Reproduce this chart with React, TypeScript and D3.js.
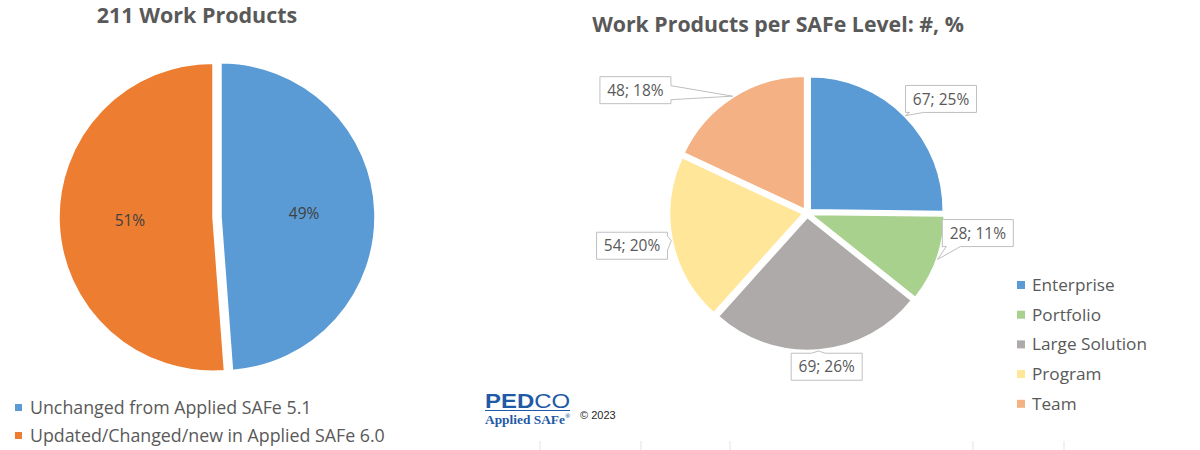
import React from 'react';
import * as d3 from 'd3';

// left chart: how many work products changed between versions
const changeLabels = ['Unchanged from Applied SAFe 5.1', 'Updated/Changed/new in Applied SAFe 6.0'];
const changeCounts = [103, 108];
const changeColors = ['#5B9BD5', '#ED7D31'];

// right chart: work products per SAFe level
const levelLabels = ['Enterprise', 'Portfolio', 'Large Solution', 'Program', 'Team'];
const levelCounts = [67, 28, 69, 54, 48];
const levelColors = ['#5B9BD5', '#A9D18E', '#AEAAAA', '#FFE699', '#F4B183'];

// where each callout box sits: degrees clockwise from 12 o'clock, px from pie centre
const calloutAngle = [49.6, 96.7, 172.7, 259.4, 305.6];
const calloutDist = [176, 172, 155, 178, 211];

const W = 1200;
const H = 450;
const FONT = '"Open Sans", Lato, sans-serif';
const TEXT = '#595959';

const pct = (v: number, total: number) => `${Math.round((v / total) * 100)}%`;

function calloutPath(cx: number, cy: number, w: number, h: number, tx: number, ty: number) {
  const x0 = cx - w / 2, x1 = cx + w / 2, y0 = cy - h / 2, y1 = cy + h / 2;
  const half = 7;
  const side = ty > y1 ? 'bottom' : ty < y0 ? 'top' : tx > x1 ? 'right' : 'left';
  const cx2 = Math.max(x0 + half + 4, Math.min(x1 - half - 4, tx));
  const cy2 = Math.max(y0 + half + 4, Math.min(y1 - half - 4, ty));
  const p = d3.path();
  p.moveTo(x0, y0);
  if (side === 'top') {
    p.lineTo(cx2 - half, y0); p.lineTo(tx, ty); p.lineTo(cx2 + half, y0);
  }
  p.lineTo(x1, y0);
  if (side === 'right') {
    p.lineTo(x1, cy2 - half); p.lineTo(tx, ty); p.lineTo(x1, cy2 + half);
  }
  p.lineTo(x1, y1);
  if (side === 'bottom') {
    p.lineTo(cx2 + half, y1); p.lineTo(tx, ty); p.lineTo(cx2 - half, y1);
  }
  p.lineTo(x0, y1);
  if (side === 'left') {
    p.lineTo(x0, cy2 + half); p.lineTo(tx, ty); p.lineTo(x0, cy2 - half);
  }
  p.closePath();
  return p.toString();
}

function ChangePie() {
  const cx = 217, cy = 217, r = 154, explode = 4;
  const total = d3.sum(changeCounts);
  const arcs = d3.pie<number>().sort(null)(changeCounts);
  const arc = d3.arc<d3.PieArcDatum<number>>().innerRadius(0).outerRadius(r);
  const shift = d3.arc<d3.PieArcDatum<number>>().innerRadius(explode).outerRadius(explode);
  const labelArc = d3.arc<d3.PieArcDatum<number>>().innerRadius(0).outerRadius(r * 1.08);

  return (
    <g>
      <text x={197} y={23} textAnchor="middle" fontFamily={FONT} fontWeight="bold" fontSize={21.5} fill={TEXT}>
        211 Work Products
      </text>
      <g transform={`translate(${cx},${cy})`}>
        {arcs.map((d, i) => {
          const [ox, oy] = shift.centroid(d);
          const [lx, ly] = labelArc.centroid(d);
          return (
            <g key={i} transform={`translate(${ox},${oy})`}>
              <path d={arc(d) || ''} fill={changeColors[i]} stroke="#fff" strokeWidth={1.5} />
              <text x={lx} y={ly} dy="0.35em" textAnchor="middle" fontFamily={FONT} fontSize={15.5} fill="#404040">
                {pct(d.value, total)}
              </text>
            </g>
          );
        })}
      </g>
      {changeLabels.map((name, i) => (
        <g key={name} transform={`translate(15,${404 + i * 28})`}>
          <rect width={7} height={7} fill={changeColors[i]} />
          <text x={15} y={3.5} dy="0.35em" fontFamily={FONT} fontSize={17.8} fill={TEXT}>
            {name}
          </text>
        </g>
      ))}
    </g>
  );
}

function LevelPie() {
  const cx = 807, cy = 213, r = 133, explode = 4.5;
  const total = d3.sum(levelCounts);
  const arcs = d3.pie<number>().sort(null)(levelCounts);
  const arc = d3.arc<d3.PieArcDatum<number>>().innerRadius(0).outerRadius(r);
  const shift = d3.arc<d3.PieArcDatum<number>>().innerRadius(explode).outerRadius(explode);
  const edge = d3.arc<d3.PieArcDatum<number>>().innerRadius(r + 1).outerRadius(r + 1);
  const boxW = 71, boxH = 27;

  return (
    <g>
      <text x={778} y={32} textAnchor="middle" fontFamily={FONT} fontWeight="bold" fontSize={21.3} fill={TEXT}>
        Work Products per SAFe Level: #, %
      </text>
      <g transform={`translate(${cx},${cy})`}>
        {arcs.map((d, i) => {
          const [ox, oy] = shift.centroid(d);
          return (
            <path key={i} transform={`translate(${ox},${oy})`} d={arc(d) || ''}
              fill={levelColors[i]} stroke="#fff" strokeWidth={1.5} />
          );
        })}
        {arcs.map((d, i) => {
          const [ox, oy] = shift.centroid(d);
          const [ex, ey] = edge.centroid(d);
          const a = (calloutAngle[i] * Math.PI) / 180;
          const bx = Math.sin(a) * calloutDist[i];
          const by = -Math.cos(a) * calloutDist[i];
          return (
            <g key={`c${i}`}>
              <path d={calloutPath(bx, by, boxW, boxH, ex + ox, ey + oy)} fill="#fff" stroke="#BFBFBF" strokeWidth={1} />
              <text x={bx} y={by} dy="0.36em" textAnchor="middle" fontFamily={FONT} fontSize={15.5} fill={TEXT}>
                {`${d.value}; ${pct(d.value, total)}`}
              </text>
            </g>
          );
        })}
      </g>
      {levelLabels.map((name, i) => (
        <g key={name} transform={`translate(1017,${281 + i * 29.7})`}>
          <rect width={8} height={8} fill={levelColors[i]} />
          <text x={15} y={4} dy="0.35em" fontFamily={FONT} fontSize={17.2} fill={TEXT}>
            {name}
          </text>
        </g>
      ))}
    </g>
  );
}

function Logo() {
  const blue = '#1F5AA6';
  return (
    <g>
      <text x={485} y={408} fontFamily='"Liberation Sans", Arial, sans-serif' fontSize={20} fill={blue}
        textLength={85} lengthAdjust="spacingAndGlyphs">
        <tspan fontWeight="bold">PED</tspan>
        <tspan fontWeight="normal">CO</tspan>
      </text>
      <line x1={485} x2={570} y1={410.5} y2={410.5} stroke={blue} strokeWidth={1} />
      <text x={485} y={424} fontFamily='"Liberation Serif", "DejaVu Serif", serif' fontWeight="bold" fontSize={13}
        fill={blue} textLength={80} lengthAdjust="spacingAndGlyphs">
        Applied SAFe
      </text>
      <text x={565} y={418} fontFamily='"Liberation Serif", serif' fontWeight="bold" fontSize={7} fill={blue}>®</text>
      <text x={580} y={419} fontFamily='"Liberation Sans", Arial, sans-serif' fontSize={11} fill="#262626">
        © 2023
      </text>
      {[540, 641, 730, 973, 1064].map((x) => (
        <line key={x} x1={x} x2={x} y1={441} y2={450} stroke="#E3E3E3" strokeWidth={1} />
      ))}
    </g>
  );
}

export default function App() {
  return (
    <svg width={W} height={H} style={{ position: 'absolute', left: 0, top: 0, background: '#fff' }}>
      <rect width={W} height={H} fill="#fff" />
      <ChangePie />
      <LevelPie />
      <Logo />
    </svg>
  );
}
